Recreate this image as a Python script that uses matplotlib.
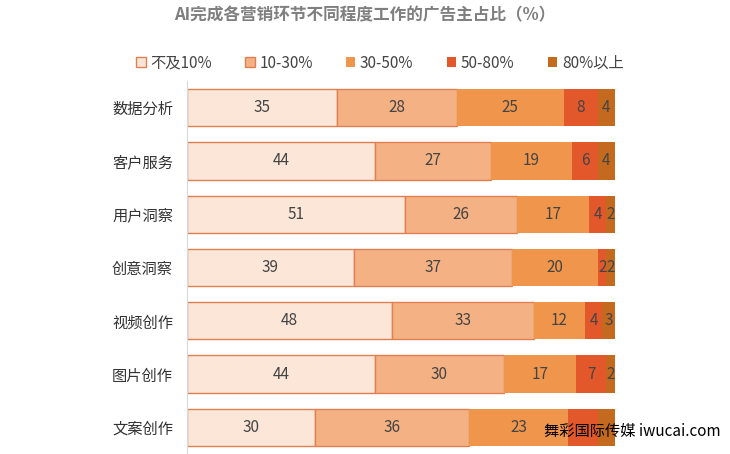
import matplotlib
matplotlib.use("Agg")
import matplotlib.pyplot as plt
import numpy as np

plt.rcParams["font.family"] = ["Noto Sans CJK SC", "Noto Sans CJK JP", "Noto Sans CJK TC", "DejaVu Sans"]

categories = ["数据分析", "客户服务", "用户洞察", "创意洞察", "视频创作", "图片创作", "文案创作"]
series_names = ["不及10%", "10-30%", "30-50%", "50-80%", "80%以上"]
values = [
    [35, 44, 51, 39, 48, 44, 30],
    [28, 27, 26, 37, 33, 30, 36],
    [25, 19, 17, 20, 12, 17, 23],
    [8, 6, 4, 2, 4, 7, 7],
    [4, 4, 2, 2, 3, 2, 4],
]
colors = ["#fbe6d8", "#f4b183", "#f0964c", "#e3582a", "#c46a1f"]
edges = ["#e08050", "#e08050", "none", "none", "none"]

fig = plt.figure(figsize=(7.30, 4.54), dpi=100)
ax = fig.add_axes([187/730, 0/454, 428/730, 373/454])
y = np.arange(len(categories))
left = np.zeros(len(categories))
for si, (name, vals, c, e) in enumerate(zip(series_names, values, colors, edges)):
    vals = np.array(vals)
    ax.barh(y, vals, left=left, height=0.7, color=c, edgecolor=e, linewidth=1, label=name)
    for yi, l, v in zip(y, left, vals):
        if yi == len(categories) - 1 and si >= 3:
            continue  # covered by watermark in the reference
        ax.text(l + v/2, yi, str(v), ha="center", va="center", fontsize=11, color="#444444")
    left += vals
ax.set_xlim(0, 100)
ax.set_ylim(len(categories) - 0.5, -0.5)
ax.set_yticks(y)
ax.set_yticklabels(categories, fontsize=11, color="#333333")
ax.tick_params(axis="y", length=0, pad=10)
ax.set_xticks([])
for s in ["top", "right", "bottom"]:
    ax.spines[s].set_visible(False)
ax.spines["left"].set_color("#d9d9d9")

fig.text(0.5, 1 - 15/454, "AI完成各营销环节不同程度工作的广告主占比（%）", ha="center", va="center",
         fontsize=12, fontweight="bold", color="#7f7f7f")
fig.legend(loc="center", bbox_to_anchor=(380/730, 1 - 63/454), ncol=5, frameon=False,
           fontsize=11, handlelength=0.6, handleheight=0.6, columnspacing=2.2, handletextpad=0.3,
           labelcolor="#444444")
fig.text(632/730, 1 - 431/454, "舞彩国际传媒 iwucai.com", ha="center", va="center",
         fontsize=11, color="black")
fig.savefig("out.png", dpi=100)
